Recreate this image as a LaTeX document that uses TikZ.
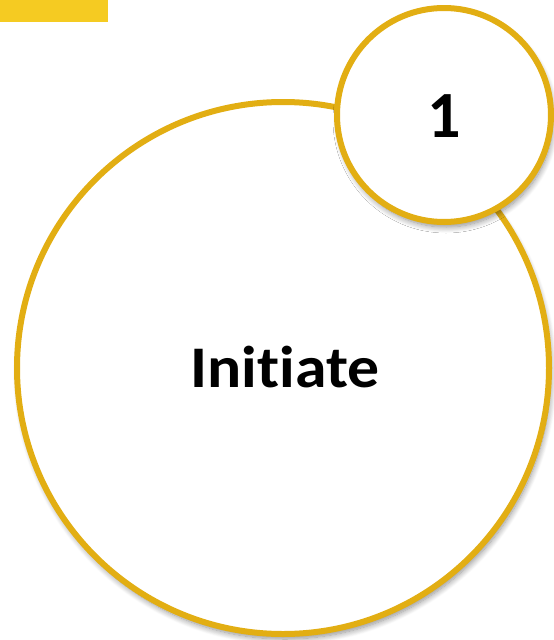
\documentclass[tikz,border=0pt]{standalone}
\usepackage{fontspec}
\setmainfont{Carlito}[Ligatures=NoCommon]
\usetikzlibrary{shadows.blur}
\definecolor{ringgold}{HTML}{E2AE13}
\definecolor{baryellow}{HTML}{F5CB22}
\tikzset{
  ring/.style={circle, draw=ringgold, line width=6pt, fill=white, inner sep=0pt,
    blur shadow={shadow xshift=2pt, shadow yshift=-5pt, shadow blur steps=10, shadow blur radius=6pt, shadow opacity=45}},
  lbl/.style={font=\bfseries, text=black, inner sep=0pt, anchor=base}
}
\begin{document}
\begin{tikzpicture}[x=1pt,y=-1pt]
\useasboundingbox (0,0) rectangle (554,640);
\fill[baryellow] (0,0) rectangle (108,22);
\node[ring, minimum size=532pt] (big) at (283,368) {};
\node[ring, minimum size=214pt] (small) at (444,115) {};
\node[lbl, font=\bfseries\fontsize{59}{60}\selectfont, xscale=1.08] (t1) at (285,387) {Initiate};
\node[lbl, font=\bfseries\fontsize{66}{70}\selectfont] (t2) at (444,137) {1};
\end{tikzpicture}
\end{document}
